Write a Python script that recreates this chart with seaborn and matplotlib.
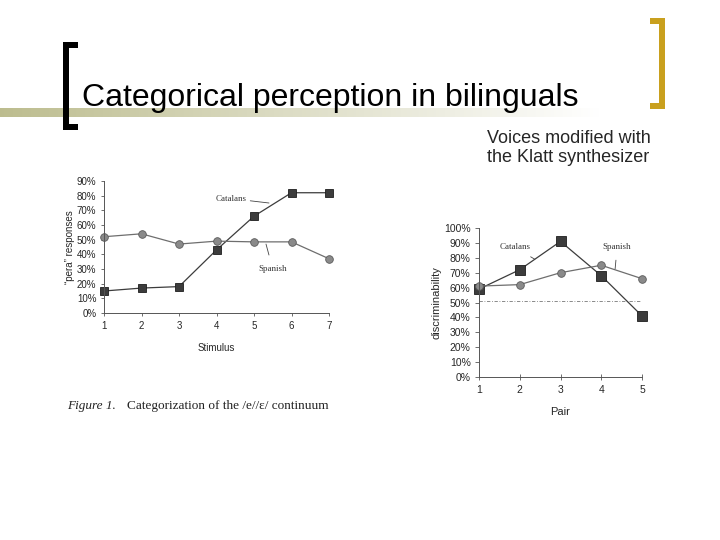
import matplotlib.pyplot as plt
import matplotlib.patches as mpatches
import numpy as np
import pandas as pd
import seaborn as sns
from matplotlib.ticker import PercentFormatter

# identification task (Figure 1)
stimulus = [1, 2, 3, 4, 5, 6, 7]
cat_ident = [15, 17, 18, 43, 66, 82, 82]
spa_ident = [52, 54, 47, 49, 48.5, 48.5, 37]

# discrimination task
pairs = [1, 2, 3, 4, 5]
cat_disc = [59, 72, 91, 68, 41]
spa_disc = [61, 62, 70, 75, 66]
chance = 51

ident = pd.DataFrame({"Stimulus": stimulus * 2,
                      "resp": cat_ident + spa_ident,
                      "Group": ["Catalans"] * 7 + ["Spanish"] * 7})
disc = pd.DataFrame({"Pair": pairs * 2,
                     "disc": cat_disc + spa_disc,
                     "Group": ["Catalans"] * 5 + ["Spanish"] * 5})

sns.set_style("ticks")
plt.rcParams["font.family"] = ["Liberation Sans", "DejaVu Sans"]

fig = plt.figure(figsize=(7.2, 5.4), dpi=100)

# slide decoration
band = fig.add_axes([0, 1 - 117 / 540, 600 / 720, 9 / 540])
grad = np.linspace(0, 1, 256)[None, :]
olive = np.array([0.74, 0.74, 0.56])
img = olive[None, None, :] * (1 - grad[..., None]) + np.ones(3)[None, None, :] * grad[..., None]
band.imshow(img, aspect="auto")
band.axis("off")

def fig_rect(x0, y0, x1, y1, color):
    fig.add_artist(mpatches.Rectangle((x0 / 720, 1 - y1 / 540), (x1 - x0) / 720, (y1 - y0) / 540,
                                      transform=fig.transFigure, color=color, lw=0))

fig_rect(63, 42, 69, 130, "black")
fig_rect(63, 42, 78, 48, "black")
fig_rect(63, 124, 78, 130, "black")
gold = "#c9a01e"
fig_rect(659, 18, 665, 109, gold)
fig_rect(650, 18, 665, 24, gold)
fig_rect(650, 103, 665, 109, gold)

fig.text(82 / 720, 1 - 98 / 540, "Categorical perception in bilinguals", fontsize=23,
         va="center", ha="left", color="black")
fig.text(487 / 720, 1 - 148 / 540, "Voices modified with\nthe Klatt synthesizer", fontsize=13,
         va="center", ha="left", linespacing=1.15)

styles = {"Catalans": dict(marker="s", color="#3c3c3c", mec="#1e1e1e"),
          "Spanish": dict(marker="o", color="#8a8a8a", mec="#5a5a5a")}
line_col = {"Catalans": "#3c3c3c", "Spanish": "#6e6e6e"}

# left chart
ax1 = fig.add_axes([104 / 720, 1 - 313 / 540, 225 / 720, 132 / 540])
for g, d in ident.groupby("Group"):
    sns.lineplot(data=d, x="Stimulus", y="resp", ax=ax1, color=line_col[g], lw=0.9,
                 marker=styles[g]["marker"], markersize=5.5, markerfacecolor=styles[g]["color"],
                 markeredgecolor=styles[g]["mec"], markeredgewidth=0.6, clip_on=False)
ax1.set_xlim(1, 7)
ax1.set_ylim(0, 90)
ax1.set_xticks(stimulus)
ax1.set_yticks(range(0, 91, 10))
ax1.yaxis.set_major_formatter(PercentFormatter(decimals=0))
ax1.tick_params(labelsize=7, length=2.5, width=0.6, color="#555555", pad=3)
ax1.set_xlabel("Stimulus", fontsize=7, labelpad=9)
ax1.set_ylabel("\u201cpera\u201d responses", fontsize=7, labelpad=1)
for s in ["left", "bottom"]:
    ax1.spines[s].set_linewidth(0.7)
    ax1.spines[s].set_color("#555555")
sns.despine(ax=ax1)
serif = ["Liberation Serif", "DejaVu Serif"]
ax1.annotate("Catalans", xy=(5.4, 75), xytext=(4.4, 78), fontsize=6.5, family=serif,
             ha="center", va="center", color="#333333",
             arrowprops=dict(arrowstyle="-", lw=0.6, color="#444444", shrinkA=0, shrinkB=0))
ax1.annotate("Spanish", xy=(5.32, 47), xytext=(5.5, 30), fontsize=6.5, family=serif,
             ha="center", va="center", color="#333333",
             arrowprops=dict(arrowstyle="-", lw=0.6, color="#444444", shrinkA=5, shrinkB=0))
fig.text(67 / 720, 1 - 406 / 540, "Figure 1.", fontsize=9.5, family=serif, style="italic",
         va="center", ha="left", color="#222222")
fig.text(127 / 720, 1 - 406 / 540, "Categorization of the /e//\u025b/ continuum", fontsize=9.5,
         family=serif, va="center", ha="left", color="#222222")

# right chart
ax2 = fig.add_axes([479 / 720, 1 - 377 / 540, 163 / 720, 149 / 540])
ax2.plot(pairs, [chance] * len(pairs), ls=(0, (4, 2, 1, 2)), lw=0.6, color="#777777")
for g, d in disc.groupby("Group"):
    sns.lineplot(data=d, x="Pair", y="disc", ax=ax2, color=line_col[g], lw=0.9,
                 marker=styles[g]["marker"], markersize=6.5 if g == "Catalans" else 5.5,
                 markerfacecolor=styles[g]["color"], markeredgecolor=styles[g]["mec"],
                 markeredgewidth=0.6, clip_on=False)
ax2.set_xlim(1, 5)
ax2.set_ylim(0, 100)
ax2.set_xticks(pairs)
ax2.set_yticks(range(0, 101, 10))
ax2.yaxis.set_major_formatter(PercentFormatter(decimals=0))
ax2.tick_params(axis="x", direction="inout", length=5)
ax2.tick_params(labelsize=7.5, width=0.6, color="#555555", pad=3)
ax2.tick_params(axis="y", length=3)
ax2.set_xlabel("Pair", fontsize=8, labelpad=9)
ax2.set_ylabel("discriminability", fontsize=8, labelpad=2)
for s in ["left", "bottom"]:
    ax2.spines[s].set_linewidth(0.7)
    ax2.spines[s].set_color("#555555")
sns.despine(ax=ax2)
ax2.annotate("Catalans", xy=(2.37, 79), xytext=(1.88, 87), fontsize=6.5, family=serif,
             ha="center", va="center", color="#333333",
             arrowprops=dict(arrowstyle="-", lw=0.6, color="#444444", shrinkA=3, shrinkB=0))
ax2.annotate("Spanish", xy=(4.34, 72.5), xytext=(4.39, 87), fontsize=6.5, family=serif,
             ha="center", va="center", color="#333333",
             arrowprops=dict(arrowstyle="-", lw=0.6, color="#444444", shrinkA=4, shrinkB=0))

fig.savefig("out.png", dpi=100)
